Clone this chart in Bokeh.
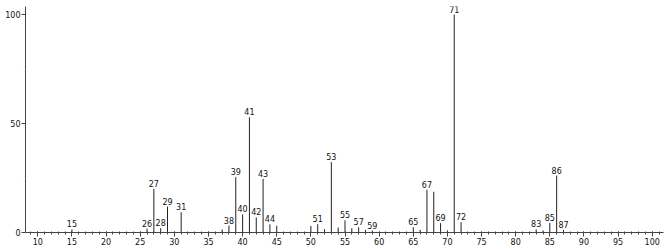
from bokeh.plotting import figure
from bokeh.models import ColumnDataSource, FixedTicker, Range1d
from bokeh.core.properties import value
from bokeh.embed import file_html
from bokeh.resources import INLINE

# m/z and relative intensity
mz = [15, 26, 27, 28, 29, 31, 37, 38, 39, 40, 41, 42, 43, 44, 45,
      50, 51, 52, 53, 54, 55, 56, 57, 58, 59,
      65, 66, 67, 68, 69, 70, 71, 72, 83, 84, 85, 86, 87]
intensity = [1.4, 1.8, 20.0, 2.0, 11.9, 9.3, 1.4, 3.2, 25.4, 8.3, 52.9, 6.9, 24.6, 3.7, 3.1,
             3.0, 3.8, 1.5, 32.3, 2.3, 5.6, 2.0, 2.4, 1.2, 0.9,
             2.4, 1.2, 19.6, 18.7, 4.3, 1.0, 100.0, 4.7, 1.4, 0.9, 4.4, 26.1, 1.2]
labeled = [15, 26, 27, 28, 29, 31, 38, 39, 40, 41, 42, 43, 44, 51, 53, 55, 57, 59,
           65, 67, 69, 71, 72, 83, 85, 86, 87]
x_ticks = list(range(10, 101, 5))
x_minor = list(range(9, 102))
y_ticks = [0, 50, 100]
y_minor = [25, 75]

src = ColumnDataSource(dict(x=mz, y=intensity, y0=[0] * len(mz)))
lab_x = [m for m in mz if m in labeled]
lab_y = [intensity[mz.index(m)] for m in lab_x]
lab_src = ColumnDataSource(dict(x=lab_x, y=lab_y, t=[str(m) for m in lab_x]))

p = figure(width=667, height=249, output_backend="svg", toolbar_location=None,
           x_range=Range1d(8.2, 101.65), y_range=Range1d(0, 103.7),
           min_border_left=25, min_border_right=4, min_border_top=6, min_border_bottom=17)
p.outline_line_color = None
p.xgrid.visible = False
p.ygrid.visible = False
p.background_fill_color = "white"
p.border_fill_color = "white"

p.segment(x0="x", y0="y0", x1="x", y1="y", source=src, line_color="#222222", line_width=1)
p.text(x="x", y="y", text="t", source=lab_src, text_align="center", text_baseline="bottom",
       y_offset=-2, text_font=value("DejaVu Sans"), text_font_size="8px", text_color="#111111")

for ax in (p.xaxis[0], p.yaxis[0]):
    ax.axis_line_color = "#444444"
    ax.major_tick_line_color = "#444444"
    ax.minor_tick_line_color = "#444444"
    ax.major_label_text_font = "DejaVu Sans"
    ax.major_label_text_font_size = "8px"
    ax.major_label_text_color = "#111111"
    ax.major_label_standoff = 1

p.xaxis.ticker = FixedTicker(ticks=x_ticks, minor_ticks=x_minor)
p.xaxis.major_tick_out = 4
p.xaxis.major_tick_in = 1
p.xaxis.minor_tick_out = 2
p.xaxis.minor_tick_in = 1
p.yaxis.ticker = FixedTicker(ticks=y_ticks, minor_ticks=y_minor)
p.yaxis.major_tick_out = 4
p.yaxis.major_tick_in = 0
p.yaxis.minor_tick_out = 2
p.yaxis.minor_tick_in = 0
p.yaxis.minor_tick_line_color = "#dddddd"

open("out.html", "w").write(file_html(p, INLINE))
